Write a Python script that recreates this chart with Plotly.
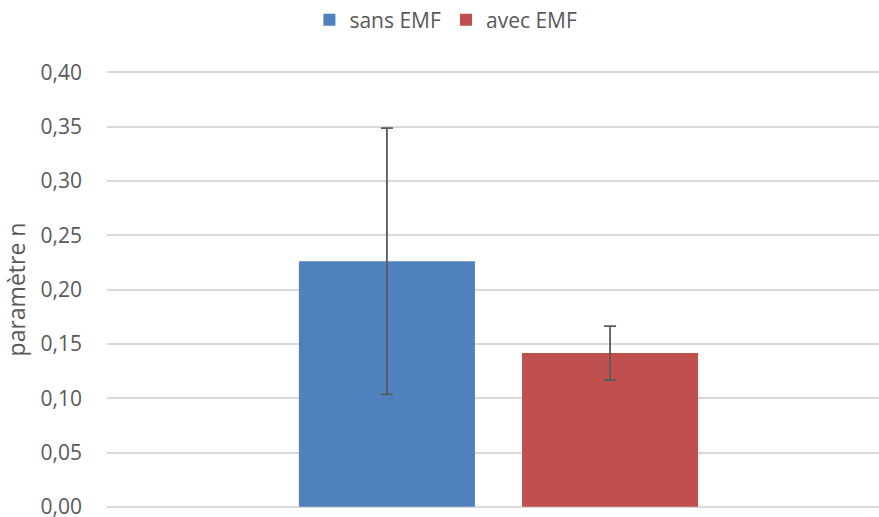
import plotly.graph_objects as go

categories = [""]
series_names = ["sans EMF", "avec EMF"]
values = [0.226, 0.1415]
errors = [0.1225, 0.0248]
colors = ["#4F81BD", "#C0504D"]
tick_vals = [0.0, 0.05, 0.10, 0.15, 0.20, 0.25, 0.30, 0.35, 0.40]
tick_text = ["0,00", "0,05", "0,10", "0,15", "0,20", "0,25", "0,30", "0,35", "0,40"]

FONT = "Open Sans"
GRAY = "#595959"

fig = go.Figure()
for name, v, e, c in zip(series_names, values, errors, colors):
    fig.add_trace(go.Bar(
        x=categories, y=[v], name=name, marker_color=c,
        marker_line_width=0,
        error_y=dict(type="data", array=[e], visible=True,
                     color="#5A5A5A", thickness=1.8, width=6),
    ))

fig.update_layout(
    width=879, height=517,
    margin=dict(l=107, r=0, t=70, b=8, autoexpand=False),
    paper_bgcolor="white", plot_bgcolor="white",
    barmode="group", bargap=0.422, bargroupgap=0.211,
    font=dict(family=FONT, size=21, color=GRAY),
    showlegend=True,
    legend=dict(orientation="h", x=0.439, xanchor="center",
                yref="container", y=1 - 20 / 517, yanchor="middle",
                font=dict(family=FONT, size=21, color=GRAY),
                itemwidth=30, tracegroupgap=0, traceorder="normal"),
    xaxis=dict(showticklabels=False, showgrid=False, zeroline=False,
               showline=False, range=[-0.5071, 0.4929], fixedrange=True),
    yaxis=dict(range=[-0.002, 0.402], tickvals=tick_vals, ticktext=tick_text,
               showgrid=True, gridcolor="#D9D9D9", gridwidth=1.5,
               zeroline=False, showline=False, ticks="",
               ticklabelstandoff=24, ticklabeloverflow="allow",
               tickfont=dict(family=FONT, size=21, color=GRAY),
               title=dict(text="paramètre n", standoff=8,
                          font=dict(family=FONT, size=23, color=GRAY))),
)

fig.write_html("out.html", config={"displayModeBar": False},
               post_script="document.body.style.margin='0';")
